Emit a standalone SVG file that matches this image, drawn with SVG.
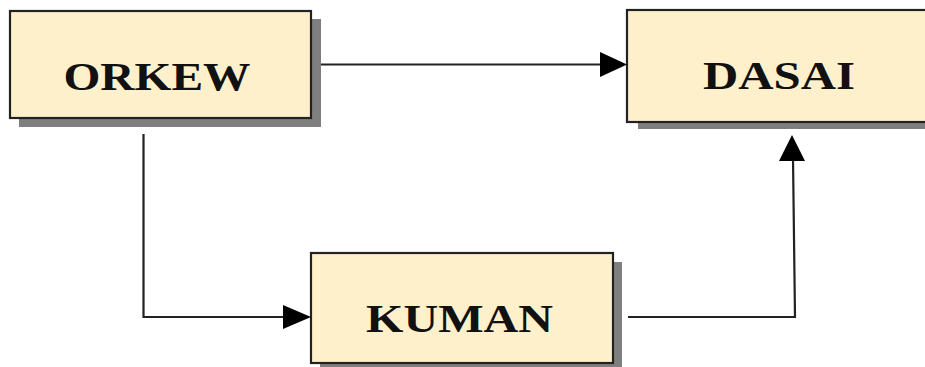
<svg xmlns="http://www.w3.org/2000/svg" width="925" height="367" viewBox="0 0 925 367">
<style>
.shadow{fill:#7f7f7f}
.box{fill:#fff0cc;stroke:#222;stroke-width:2.2}
.lbl{font-family:"Liberation Serif","Times New Roman",serif;font-weight:bold;font-size:40px;fill:#111;text-anchor:middle}
.conn{fill:none;stroke:#222;stroke-width:2.2}
.head{fill:#000}
</style>
<rect width="925" height="367" fill="#fff"/>
<g id="orkew">
<rect class="shadow" x="19" y="19" width="302" height="108"/>
<rect class="box" x="10" y="11" width="301" height="107"/>
<text class="lbl" x="157" y="90" textLength="187" lengthAdjust="spacingAndGlyphs">ORKEW</text>
</g>
<g id="dasai">
<rect class="shadow" x="638" y="19" width="300" height="110"/>
<rect class="box" x="627" y="10" width="310" height="112"/>
<text class="lbl" x="779" y="89" textLength="152" lengthAdjust="spacingAndGlyphs">DASAI</text>
</g>
<g id="kuman">
<rect class="shadow" x="320" y="262" width="302" height="110"/>
<rect class="box" x="311" y="253" width="302" height="110"/>
<text class="lbl" x="459.5" y="332" textLength="187" lengthAdjust="spacingAndGlyphs">KUMAN</text>
</g>
<g id="connectors">
<path class="conn" d="M321 64.5 H603"/>
<polygon class="head" points="627,64.5 600,52 600,77"/>
<path class="conn" d="M143.5 134 V317 H286"/>
<polygon class="head" points="311,317 283,305 283,329"/>
<path class="conn" d="M628 317 H795 L793 158"/>
<polygon class="head" points="792,135 779,161 805,161"/>
</g>
</svg>
